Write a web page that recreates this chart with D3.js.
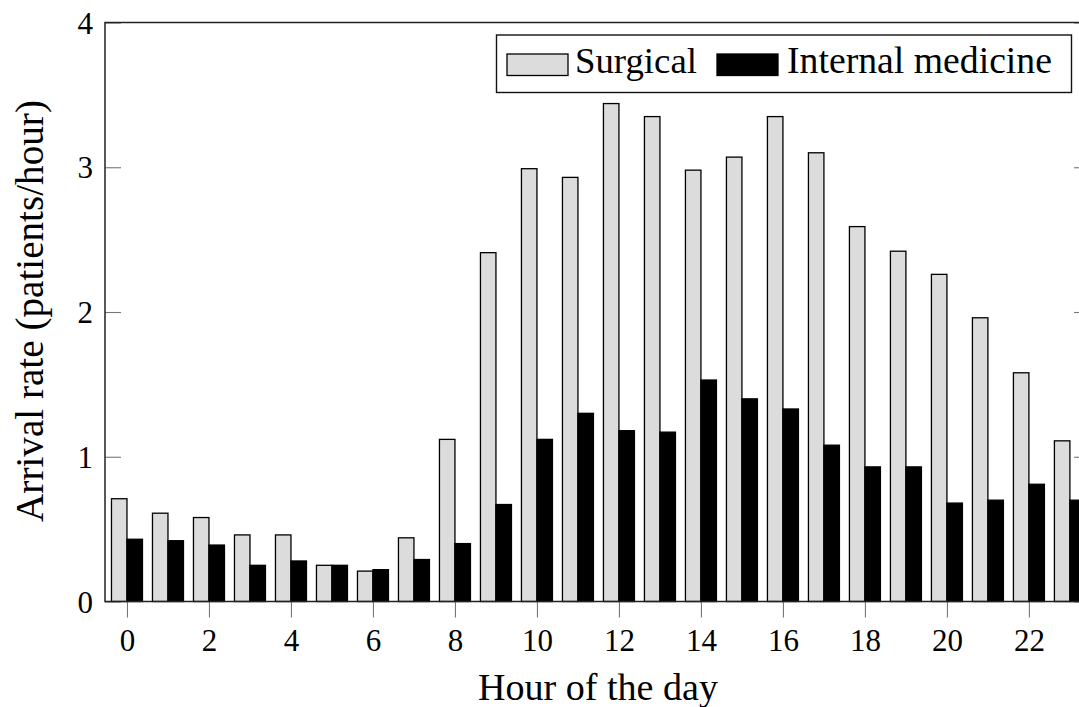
<!DOCTYPE html>
<html>
<head>
<meta charset="utf-8">
<script src="https://cdn.jsdelivr.net/npm/d3@7/dist/d3.min.js"></script>
<style>
  html, body { margin: 0; padding: 0; background: #fff; overflow: hidden; }
  svg { display: block; }
</style>
</head>
<body>
<svg id="chart" width="1079" height="707"></svg>
<script>
// ---- data ----
const hours = [0,1,2,3,4,5,6,7,8,9,10,11,12,13,14,15,16,17,18,19,20,21,22,23];
const surgical = [0.71,0.61,0.58,0.46,0.46,0.25,0.21,0.44,1.12,2.41,2.99,2.93,3.44,3.35,2.98,3.07,3.35,3.10,2.59,2.42,2.26,1.96,1.58,1.11];
const internalMedicine = [0.43,0.42,0.39,0.25,0.28,0.25,0.22,0.29,0.40,0.67,1.12,1.30,1.18,1.17,1.53,1.40,1.33,1.08,0.93,0.93,0.68,0.70,0.81,0.70];
const xTickValues = [0,2,4,6,8,10,12,14,16,18,20,22];
const yTickValues = [0,1,2,3,4];
const seriesNames = ["Surgical", "Internal medicine"];
const xLabel = "Hour of the day";
const yLabel = "Arrival rate (patients/hour)";

// ---- layout ----
const FONT = "'Liberation Serif', 'DejaVu Serif', 'Times New Roman', serif";
const svg = d3.select("#chart");
const plotL = 105, plotR = 1090, plotT = 22.5, plotB = 601.5;
const x = d3.scaleLinear().domain([-0.536, 23.49]).range([plotL, plotR]);
const y = d3.scaleLinear().domain([0, 4]).range([plotB, plotT]);
const bw = 15.5;

function fitText(sel, target) {
  const node = sel.node();
  const fs = parseFloat(sel.style("font-size"));
  const w = node.getComputedTextLength();
  if (w > 0) sel.style("font-size", (fs * target / w) + "px");
}

// bars
const g = svg.append("g");
g.selectAll("rect.surg").data(hours).enter().append("rect")
  .attr("class", "surg")
  .attr("x", (d) => x(d) - bw)
  .attr("width", bw)
  .attr("y", (d, i) => y(surgical[i]))
  .attr("height", (d, i) => y(0) - y(surgical[i]))
  .attr("fill", "#dcdcdc").attr("stroke", "#000").attr("stroke-width", 1.3);
g.selectAll("rect.int").data(hours).enter().append("rect")
  .attr("class", "int")
  .attr("x", (d) => x(d))
  .attr("width", bw)
  .attr("y", (d, i) => y(internalMedicine[i]))
  .attr("height", (d, i) => y(0) - y(internalMedicine[i]))
  .attr("fill", "#000").attr("stroke", "#000").attr("stroke-width", 1.3);

// axes
const yAxisL = svg.append("g").attr("transform", `translate(${plotL},0)`)
  .call(d3.axisLeft(y).tickValues(yTickValues).tickSize(-16).tickPadding(12).tickFormat(d3.format("d")));
const yAxisR = svg.append("g").attr("transform", `translate(${plotR},0)`)
  .call(d3.axisRight(y).tickValues(yTickValues).tickSize(-16).tickFormat(""));
const xAxis = svg.append("g").attr("transform", `translate(0,${plotB})`)
  .call(d3.axisBottom(x).tickValues(xTickValues).tickSize(16).tickFormat(d3.format("d")));

[yAxisL, yAxisR, xAxis].forEach(a => {
  a.attr("font-family", null).attr("font-size", null);
  a.select(".domain").remove();
  a.selectAll(".tick line").attr("stroke", "#777").attr("stroke-width", 1.1);
  a.selectAll("text").style("font-family", FONT).style("font-size", "31px").attr("fill", "#000");
});
yAxisL.selectAll("text").attr("dy", "0.34em");
xAxis.selectAll("text").attr("y", 49.5).attr("dy", 0);

// frame
svg.append("rect")
  .attr("x", plotL).attr("y", plotT)
  .attr("width", plotR - plotL).attr("height", plotB - plotT)
  .attr("fill", "none").attr("stroke", "#222").attr("stroke-width", 1.5);

// axis labels
const xl = svg.append("text").attr("x", 598).attr("y", 700).attr("text-anchor", "middle")
  .style("font-family", FONT).style("font-size", "30px").text(xLabel);
fitText(xl, 240);
const yl = svg.append("text").attr("transform", "translate(43,311) rotate(-90)")
  .attr("text-anchor", "middle").style("font-family", FONT).style("font-size", "30px").text(yLabel);
fitText(yl, 422);

// legend
const lg = svg.append("g");
lg.append("rect").attr("x", 496.5).attr("y", 35).attr("width", 575).attr("height", 57.5)
  .attr("fill", "#fff").attr("stroke", "#111").attr("stroke-width", 1.4);
const swatchX = [507, 717], textX = [575, 787], textW = [122, 265];
const fills = ["#dcdcdc", "#000"];
seriesNames.forEach((name, i) => {
  lg.append("rect").attr("x", swatchX[i]).attr("y", 54).attr("width", 61).attr("height", 21.5)
    .attr("fill", fills[i]).attr("stroke", "#000").attr("stroke-width", 1.3);
  const t = lg.append("text").attr("x", textX[i]).attr("y", 73)
    .style("font-family", FONT).style("font-size", "34px").text(name);
  fitText(t, textW[i]);
});
</script>
</body>
</html>
